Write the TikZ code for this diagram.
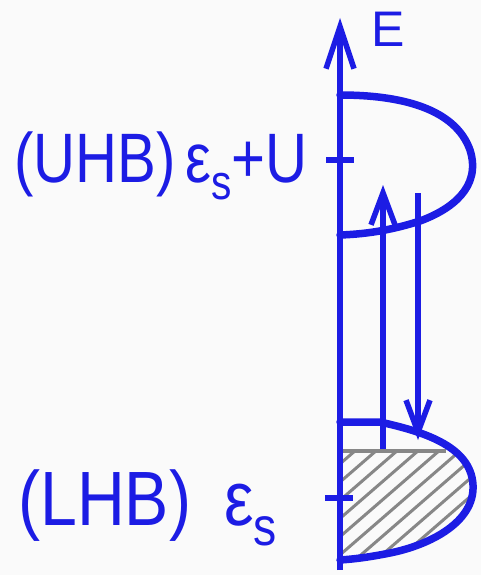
\documentclass[tikz,border=0pt]{standalone}
\usepackage{fontspec}
\setmainfont{Liberation Sans}
\usepackage{graphicx}
\usepackage{xcolor}
\usepackage{tikz}
\usetikzlibrary{arrows.meta,calc}

\definecolor{pen}{RGB}{28,28,228}
\definecolor{hatch}{RGB}{135,135,135}
\definecolor{paper}{RGB}{250,250,250}

\tikzset{
  axisline/.style={pen,line width=5.5pt},
  band/.style={pen,line width=7.5pt,line cap=round,line join=round},
  hop/.style={pen,line width=5.5pt,-{Straight Barb[length=32pt,width=24pt,line width=5.5pt]}},
  tickmark/.style={pen,line width=5.5pt},
  lbl/.style={pen,inner sep=0pt},
}

\begin{document}
\begin{tikzpicture}[x=1pt,y=-1pt]
\useasboundingbox[fill=paper] (0,0) rectangle (481,575);
\begin{scope}
  % lower Hubbard band outline
  \def\lhb{(340,422) -- (380,422) .. controls (420,431) and (471,445) .. (473,485)
           .. controls (475,522) and (430,545) .. (390,553) .. controls (370,557) and (355,559) .. (340,560)}

  % filled part of the LHB
  \begin{scope}
    \clip (340,451) rectangle (481,575);
    \clip \lhb -- cycle;
    \foreach \k in {0,...,14}{
      \draw[hatch,line width=3pt] (185+\k*21,580) -- ++(150,-130);
    }
  \end{scope}
  \draw[hatch,line width=3.5pt] (340,451) -- (446,451);

  % energy axis
  \coordinate (bot) at (340,570);
  \coordinate (top) at (340,18);
  \draw[axisline,-{Straight Barb[length=42pt,width=28pt,line width=5.5pt]}] (bot) -- (top);
  \node[lbl,font=\fontsize{50}{60}\selectfont,anchor=base west] (E) at (371,47) {E};

  % bands
  \draw[band] (340,95) .. controls (400,95) and (455,108) .. (470,150)
              .. controls (482,188) and (450,210) .. (420,221)
              .. controls (395,229) and (370,234) .. (340,235);
  \draw[band] \lhb;

  % band centres
  \coordinate (eu) at (340,160);
  \coordinate (es) at (340,498);
  \draw[tickmark] ($(eu)+(-14,0)$) -- ($(eu)+(14,0)$);
  \draw[tickmark] ($(es)+(-15,0)$) -- ($(es)+(13,0)$);
  \node[lbl,font=\fontsize{70}{80}\selectfont,anchor=base east] (uhb) at (308,182)
    {\scalebox{0.83}[1]{(UHB)\,ε\textsubscript{s}+U}};
  \node[lbl,font=\fontsize{77}{85}\selectfont,anchor=base west] (lhb) at (18,525)
    {\scalebox{0.86}[1]{(LHB)\hspace{0.5em}ε\textsubscript{s}}};

  % excitations across the gap
  \coordinate (upfoot) at (383,449);
  \coordinate (uphead) at (383,185);
  \coordinate (dnfoot) at (418,193);
  \coordinate (dnhead) at (418,440);
  \draw[hop] (upfoot) -- (uphead);
  \draw[hop] (dnfoot) -- (dnhead);
\end{scope}
\end{tikzpicture}
\end{document}
